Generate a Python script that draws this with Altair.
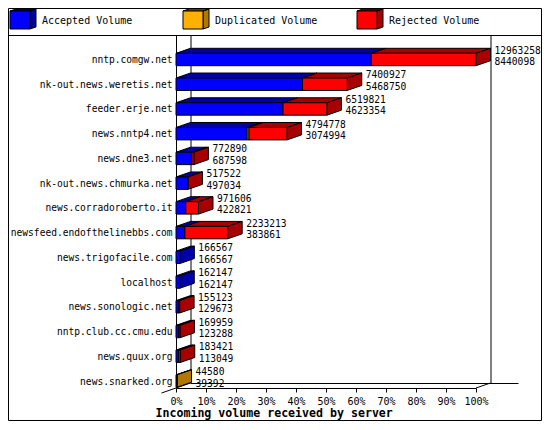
import json
import altair as alt
import pandas as pd

# ---------------- data ----------------
names = [
    "nntp.comgw.net", "nk-out.news.weretis.net", "feeder.erje.net",
    "news.nntp4.net", "news.dne3.net", "nk-out.news.chmurka.net",
    "news.corradoroberto.it", "newsfeed.endofthelinebbs.com",
    "news.trigofacile.com", "localhost", "news.sonologic.net",
    "nntp.club.cc.cmu.edu", "news.quux.org", "news.snarked.org",
]
total = [12963258, 7400927, 6519821, 4794778, 772890, 517522, 971606,
         2233213, 166567, 162147, 155123, 169959, 183421, 44580]
accepted = [8440098, 5468750, 4623354, 3074994, 687598, 497034, 422821,
            383861, 166567, 162147, 129673, 123288, 113049, 39392]
duplicated = [0, 0, 0, 80000, 0, 0, 0, 0, 0, 0, 0, 0, 0, 5188]
legend_labels = ["Accepted Volume", "Duplicated Volume", "Rejected Volume"]
tick_values = list(range(0, 101, 10))

# ---------------- style ----------------
KEYS = ["acc", "dup", "rej"]
FRONT = {"acc": "#0000ff", "dup": "#ffb000", "rej": "#ff0000"}
DARK = {"acc": "#0000a8", "dup": "#b07800", "rej": "#a80000"}
FONT = "DejaVu Sans Mono"

TOTAL_W, TOTAL_H = 534, 413
PAD_L = 168
VIEW_H = 380                 # front axis line
PLOT_W = 300.0               # pixels for 0..100 %
ROW_TOP, ROW_BOT = 51.5, 373.0
PX_PER_PCT = PLOT_W / 100.0
PX_PER_ROW = (ROW_BOT - ROW_TOP) / (len(names) - 1)
DX_PX, DY_PX = 14.5, 5.0
DX = DX_PX / PX_PER_PCT
DY = DY_PX / PX_PER_ROW
H = 6.2 / PX_PER_ROW
BACK_Y = VIEW_H - DY_PX      # back floor line

X_SCALE = alt.Scale(domain=[0, 100], range=[0, PLOT_W], nice=False, zero=False)
Y_SCALE = alt.Scale(domain=[0, len(names) - 1], range=[ROW_TOP, ROW_BOT], nice=False, zero=False)

X_AXIS = alt.Axis(values=tick_values, labelExpr="datum.value + '%'", tickSize=4,
                  tickColor="black", domainColor="black", labelColor="black",
                  labelFont=FONT, labelFontSize=10, labelPadding=4, grid=False,
                  labelFlush=False, labelOverlap=False,
                  title="Incoming volume received by server", titleFont=FONT,
                  titleFontSize=11.6, titleFontWeight="bold", titleColor="black",
                  titleAlign="left", titleX=-21, titleY=28, titleBaseline="alphabetic")
Y_AXIS = alt.Axis(values=list(range(len(names))),
                  labelExpr=json.dumps(names) + "[datum.value]",
                  domain=False, ticks=False, grid=False, labelFont=FONT,
                  labelFontSize=9.6, labelColor="black", labelPadding=4,
                  labelOverlap=False, title=None)

# ---------------- geometry from data ----------------
max_total = max(total)
front_rows, top_rows, side_rows, text_rows = [], [], [], []
for i, name in enumerate(names):
    rej = total[i] - accepted[i] - duplicated[i]
    segs = [("acc", accepted[i]), ("dup", duplicated[i]), ("rej", rej)]
    start = 0
    last_key, last_x = None, 0.0
    for key, v in segs:
        if v <= 0:
            continue
        x0 = start / max_total * 100
        x1 = (start + v) / max_total * 100
        front_rows.append(dict(x0=x0, x1=x1, yt=i - H, yb=i + H, fill=FRONT[key]))
        pid = f"{i}-{key}"
        top_rows.append(dict(pid=pid, yy=i - H, xa=x0, xb=x1, fill=DARK[key]))
        top_rows.append(dict(pid=pid, yy=i - H - DY, xa=x0 + DX, xb=x1 + DX, fill=DARK[key]))
        start += v
        last_key, last_x = key, x1
    side_rows.append(dict(pid=str(i), xx=last_x, ya=i - H, yb=i + H, fill=DARK[last_key]))
    side_rows.append(dict(pid=str(i), xx=last_x + DX, ya=i - H - DY, yb=i + H - DY, fill=DARK[last_key]))
    text_rows.append(dict(row=i, xt=total[i] / max_total * 100 + DX,
                          t1=str(total[i]), t2=str(accepted[i])))

df_front = pd.DataFrame(front_rows)
df_top = pd.DataFrame(top_rows)
df_side = pd.DataFrame(side_rows)
df_text = pd.DataFrame(text_rows)
one = pd.DataFrame({"k": [0]})

layers = []


def rule(x, y, x2=None, y2=None):
    enc = dict(x=alt.value(x), y=alt.value(y))
    if x2 is not None:
        enc["x2"] = alt.value(x2)
    if y2 is not None:
        enc["y2"] = alt.value(y2)
    return alt.Chart(one).mark_rule(color="black", strokeWidth=1).encode(**enc)


# outer frame, legend separator and 3D box lines (pixels relative to plot origin)
layers.append(alt.Chart(one).mark_rect(fillOpacity=0, stroke="black", strokeWidth=1).encode(
    x=alt.value(-PAD_L + 0.5), x2=alt.value(TOTAL_W - PAD_L - 0.5),
    y=alt.value(0.5), y2=alt.value(TOTAL_H - 0.5)))
layers.append(rule(-PAD_L, 27.5, x2=TOTAL_W - PAD_L))
layers.append(rule(0.5, 27, y2=VIEW_H))
layers.append(rule(DX_PX + 0.5, 27, y2=BACK_Y))
layers.append(rule(PLOT_W + DX_PX + 0.5, 27, y2=BACK_Y))
layers.append(rule(DX_PX, BACK_Y + 0.5, x2=PLOT_W + DX_PX + 28))
layers.append(rule(PLOT_W, VIEW_H, x2=PLOT_W + DX_PX, y2=BACK_Y))
layers.append(rule(-DX_PX, VIEW_H + DY_PX, x2=DX_PX, y2=BACK_Y))

# top faces
layers.append(alt.Chart(df_top).mark_area(orient="horizontal", stroke="black",
                                          strokeWidth=1, opacity=1).encode(
    y=alt.Y("yy:Q", scale=Y_SCALE, axis=Y_AXIS),
    x=alt.X("xa:Q", scale=X_SCALE, axis=X_AXIS, stack=None),
    x2="xb:Q",
    detail="pid:N",
    fill=alt.Fill("fill:N", scale=None),
))
# side faces
layers.append(alt.Chart(df_side).mark_area(orient="vertical", stroke="black",
                                           strokeWidth=1, opacity=1).encode(
    x=alt.X("xx:Q", scale=X_SCALE, axis=X_AXIS),
    y=alt.Y("ya:Q", scale=Y_SCALE, axis=Y_AXIS, stack=None),
    y2="yb:Q",
    detail="pid:N",
    fill=alt.Fill("fill:N", scale=None),
))
# front faces
layers.append(alt.Chart(df_front).mark_rect(stroke="black", strokeWidth=1, opacity=1).encode(
    x=alt.X("x0:Q", scale=X_SCALE, axis=X_AXIS),
    x2="x1:Q",
    y=alt.Y("yt:Q", scale=Y_SCALE, axis=Y_AXIS),
    y2="yb:Q",
    fill=alt.Fill("fill:N", scale=None),
))
# value labels: total volume and accepted volume
for field, dy in (("t1", -6), ("t2", 5.5)):
    layers.append(alt.Chart(df_text).mark_text(align="left", baseline="alphabetic",
                                               dx=4, dy=dy, font=FONT, fontSize=9.6,
                                               color="black").encode(
        x=alt.X("xt:Q", scale=X_SCALE, axis=X_AXIS),
        y=alt.Y("row:Q", scale=Y_SCALE, axis=Y_AXIS),
        text=f"{field}:N",
    ))

# legend (drawn cubes + labels)
legend_x = [-166, 7, 181]
LEG_Y = 3
cube_path = "M0,0 L6,-2 L26,-2 L20,0 Z M20,0 L26,-2 L26,16 L20,18 Z"
for lx, key, label in zip(legend_x, KEYS, legend_labels):
    layers.append(alt.Chart(one).mark_point(shape=cube_path, size=4, filled=True,
                                            fill=DARK[key], stroke="black",
                                            strokeWidth=1, opacity=1).encode(
        x=alt.value(lx), y=alt.value(LEG_Y)))
    layers.append(alt.Chart(one).mark_rect(fill=FRONT[key], stroke="black",
                                           strokeWidth=1, opacity=1).encode(
        x=alt.value(lx), x2=alt.value(lx + 20), y=alt.value(LEG_Y), y2=alt.value(LEG_Y + 18)))
    layers.append(alt.Chart(one).mark_text(align="left", baseline="middle", font=FONT,
                                           fontSize=10, color="black").encode(
        x=alt.value(lx + 32), y=alt.value(LEG_Y + 9.5), text=alt.value(label)))

chart = alt.layer(*layers).properties(
    width=TOTAL_W - PAD_L, height=VIEW_H,
    autosize=alt.AutoSizeParams(type="none"),
    padding={"left": PAD_L, "top": 0, "right": 0, "bottom": TOTAL_H - VIEW_H},
    background="white",
).configure_view(stroke=None)

chart.save("out.html", embed_options={"renderer": "svg", "actions": False})
